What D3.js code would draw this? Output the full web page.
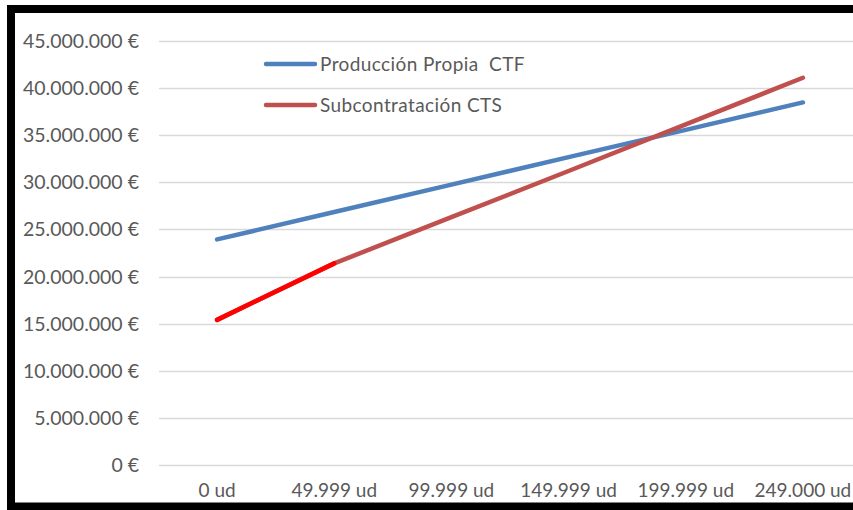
<!DOCTYPE html>
<html>
<head>
<meta charset="utf-8">
<script src="https://cdn.jsdelivr.net/npm/d3@7"></script>
<style>
  body { margin: 0; background: #fff; }
  svg { display: block; }
  text { font-family: Lato, "Open Sans", sans-serif; fill: #595959; white-space: pre; }
</style>
</head>
<body>
<svg id="chart"></svg>
<script>
var width = 853;
var height = 510;

// data
var categories = ["0 ud", "49.999 ud", "99.999 ud", "149.999 ud", "199.999 ud", "249.000 ud"];
var propia = [23940000, 26850000, 29760000, 32670000, 35570000, 38480000];
var subcontratacion = [15400000, 21400000, 26300000, 31200000, 36150000, 41100000];
var seriesNames = ["Producción Propia  CTF", "Subcontratación CTS"];
var yTicks = [0, 5000000, 10000000, 15000000, 20000000, 25000000, 30000000, 35000000, 40000000, 45000000];

var svg = d3.select('#chart')
    .attr('width', width)
    .attr('height', height);

var x = d3.scalePoint()
    .domain(categories)
    .range([158.5, 861.5])
    .padding(0.5);

var y = d3.scaleLinear()
    .domain([0, 45000000])
    .range([465, 41]);

var es = d3.formatLocale({decimal: ",", thousands: ".", grouping: [3], currency: ["", " €"]});
var fmt = es.format(",.0f");

// grid
svg.append('g')
    .selectAll('line')
    .data(yTicks)
    .enter()
    .append('line')
    .attr('x1', 159)
    .attr('x2', width)
    .attr('y1', function(d){ return Math.round(y(d)) + 0.5; })
    .attr('y2', function(d){ return Math.round(y(d)) + 0.5; })
    .style('stroke', '#d9d9d9')
    .style('stroke-width', 1.3);

// y labels
svg.append('g')
    .selectAll('text')
    .data(yTicks)
    .enter()
    .append('text')
    .attr('x', 139)
    .attr('y', function(d){ return y(d); })
    .attr('dy', '0.36em')
    .attr('text-anchor', 'end')
    .style('font-size', '19.5px')
    .text(function(d){ return fmt(d) + " €"; });

// x labels
svg.append('g')
    .selectAll('text')
    .data(categories)
    .enter()
    .append('text')
    .attr('x', function(d){ return x(d); })
    .attr('y', 497)
    .attr('text-anchor', 'middle')
    .style('font-size', '19px')
    .text(function(d){ return d; });

var line = d3.line()
    .x(function(d, i){ return x(categories[i]); })
    .y(function(d){ return y(d); });

function drawSeries(values, color){
    svg.append('path')
        .datum(values)
        .attr('d', line)
        .style('fill', 'none')
        .style('stroke', color)
        .style('stroke-width', 4.5)
        .style('stroke-linecap', 'round')
        .style('stroke-linejoin', 'round');
}

drawSeries(propia, '#4f81bd');
drawSeries(subcontratacion, '#c0504d');

// first segment of the red series is highlighted in pure red
svg.append('path')
    .datum(subcontratacion.slice(0, 2))
    .attr('d', line)
    .style('fill', 'none')
    .style('stroke', '#ff0000')
    .style('stroke-width', 4.5)
    .style('stroke-linecap', 'round');

// legend
var legend = svg.append('g')
    .selectAll('g')
    .data(seriesNames)
    .enter()
    .append('g')
    .attr('transform', function(d, i){ return 'translate(266,' + (64 + i * 41) + ')'; });

legend.append('line')
    .attr('x1', 0)
    .attr('x2', 49)
    .style('stroke', function(d, i){ return i == 0 ? '#4f81bd' : '#c0504d'; })
    .style('stroke-width', 4.5)
    .style('stroke-linecap', 'round');

legend.append('text')
    .attr('x', 54)
    .attr('dy', '0.36em')
    .style('font-size', '19px')
    .style('letter-spacing', '0.4px')
    .text(function(d){ return d; });

// black frame
svg.append('rect')
    .attr('x', 11)
    .attr('y', 9)
    .attr('width', width + 20)
    .attr('height', 497.5)
    .style('fill', 'none')
    .style('stroke', '#000')
    .style('stroke-width', 8);
</script>
</body>
</html>
